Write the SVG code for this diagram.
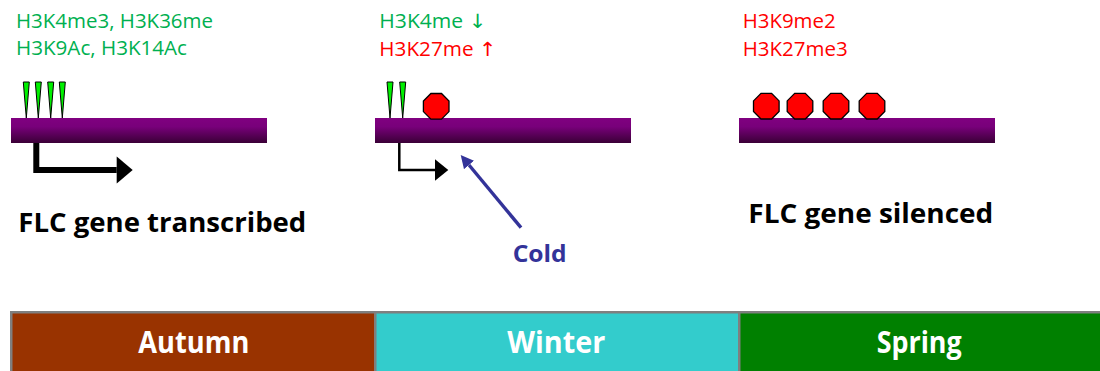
<svg xmlns="http://www.w3.org/2000/svg" width="1100" height="371" viewBox="0 0 1100 371">
  <style>
    .mark { font-family: "Open Sans", "DejaVu Sans", sans-serif; font-size: 19.5px; }
    .up { fill: #00B050; }
    .down { fill: #FF0000; }
    .title { font-family: "Open Sans", sans-serif; font-weight: bold; font-size: 26px; fill: #000000; }
    .season { font-family: "Open Sans", sans-serif; font-weight: bold; font-size: 30px; fill: #FFFFFF; text-anchor: middle; }
    .cold { font-family: "Open Sans", sans-serif; font-weight: bold; font-size: 24px; fill: #333399; }
    .gene { fill: url(#geneFill); }
    .acet { fill: #00F000; stroke: #000000; stroke-width: 1; stroke-linejoin: miter; }
    .repr { fill: #FF0000; stroke: #000000; stroke-width: 1.3; }
    .tss { fill: none; stroke: #000000; stroke-linejoin: miter; }
    .box { stroke: #7F7F7F; stroke-width: 2.5; }
  </style>
  <defs>
    <linearGradient id="geneFill" x1="0" y1="0" x2="0" y2="1">
      <stop offset="0" stop-color="#800080"/>
      <stop offset="0.35" stop-color="#78007A"/>
      <stop offset="1" stop-color="#3A0036"/>
    </linearGradient>
    <!-- green tick and red octagon used as chromatin marks -->
    <polygon id="tick" class="acet" points="-3,0 3,0 0,36"/>
    <polygon id="octa" class="repr" points="-5.3,-12.8 5.3,-12.8 12.8,-5.3 12.8,5.3 5.3,12.8 -5.3,12.8 -12.8,5.3 -12.8,-5.3"/>
    <marker id="headBig" markerUnits="userSpaceOnUse" markerWidth="18" markerHeight="28" viewBox="0 -14 17 28" refX="0" refY="0" orient="auto">
      <path d="M0,-13.5 L16,0 L0,13.5 Z" fill="#000000"/>
    </marker>
    <marker id="headSmall" markerUnits="userSpaceOnUse" markerWidth="14" markerHeight="22" viewBox="0 -11 14 22" refX="0" refY="0" orient="auto">
      <path d="M0,-10.8 L13.3,0 L0,10.8 Z" fill="#000000"/>
    </marker>
    <marker id="headCold" markerUnits="userSpaceOnUse" markerWidth="14" markerHeight="14" viewBox="0 -7 14 14" refX="0" refY="0" orient="auto">
      <path d="M0,-6.5 L13,0 L0,6.5 Z" fill="#333399"/>
    </marker>
  </defs>

  <!-- active gene before winter -->
  <g id="state-active">
    <text class="mark up" x="16" y="28" textLength="197" lengthAdjust="spacingAndGlyphs">H3K4me3, H3K36me</text>
    <text class="mark up" x="16" y="55" textLength="171" lengthAdjust="spacingAndGlyphs">H3K9Ac, H3K14Ac</text>
    <rect class="gene" x="11" y="118" width="256" height="25"/>
    <use href="#tick" x="26.3" y="82"/>
    <use href="#tick" x="38.3" y="82"/>
    <use href="#tick" x="50.7" y="82"/>
    <use href="#tick" x="62.3" y="82"/>
    <text class="title" x="18.3" y="231.7" textLength="288" lengthAdjust="spacingAndGlyphs">FLC gene transcribed</text>
  </g>

  <!-- gene during cold exposure -->
  <g id="state-cold">
    <text class="mark up" x="379.3" y="28" textLength="107" lengthAdjust="spacingAndGlyphs">H3K4me ↓</text>
    <text class="mark down" x="379.3" y="56" textLength="117" lengthAdjust="spacingAndGlyphs">H3K27me ↑</text>
    <rect class="gene" x="375" y="118" width="256" height="25"/>
    <use href="#tick" x="390" y="82"/>
    <use href="#tick" x="402.7" y="82"/>
    <use href="#octa" x="436.2" y="106.3"/>
  </g>

  <!-- silenced gene after winter -->
  <g id="state-silenced">
    <text class="mark down" x="742.7" y="28" textLength="93" lengthAdjust="spacingAndGlyphs">H3K9me2</text>
    <text class="mark down" x="742.7" y="56" textLength="105" lengthAdjust="spacingAndGlyphs">H3K27me3</text>
    <rect class="gene" x="739" y="118" width="256" height="25"/>
    <use href="#octa" x="766.3" y="106.2"/>
    <use href="#octa" x="800" y="106.2"/>
    <use href="#octa" x="836" y="106.2"/>
    <use href="#octa" x="872" y="106.2"/>
    <text class="title" x="748.3" y="223.3" textLength="245" lengthAdjust="spacingAndGlyphs">FLC gene silenced</text>
  </g>

  <g id="cold-label">
    <text class="cold" x="512.7" y="261.7" textLength="54" lengthAdjust="spacingAndGlyphs">Cold</text>
  </g>

  <!-- season timeline -->
  <g id="season-autumn">
    <rect class="box" x="11.25" y="312.25" width="364" height="70" fill="#993300"/>
    <text class="season" x="193.8" y="353.3" textLength="111" lengthAdjust="spacingAndGlyphs">Autumn</text>
  </g>
  <g id="season-winter">
    <rect class="box" x="375.25" y="312.25" width="364" height="70" fill="#33CCCC"/>
    <text class="season" x="556.2" y="353.3" textLength="98" lengthAdjust="spacingAndGlyphs">Winter</text>
  </g>
  <g id="season-spring">
    <rect class="box" x="739.25" y="312.25" width="370" height="70" fill="#008000"/>
    <text class="season" x="919.2" y="353.3" textLength="85" lengthAdjust="spacingAndGlyphs">Spring</text>
  </g>

  <!-- transcription start arrows and the cold signal -->
  <g id="connectors">
    <path class="tss" d="M36.3,143 V170 H116.7" stroke-width="6" marker-end="url(#headBig)"/>
    <path class="tss" d="M399.3,143 V170 H435" stroke-width="2.5" marker-end="url(#headSmall)"/>
    <line x1="521" y1="227.7" x2="469" y2="165" stroke="#333399" stroke-width="3.4" marker-end="url(#headCold)"/>
  </g>
</svg>
